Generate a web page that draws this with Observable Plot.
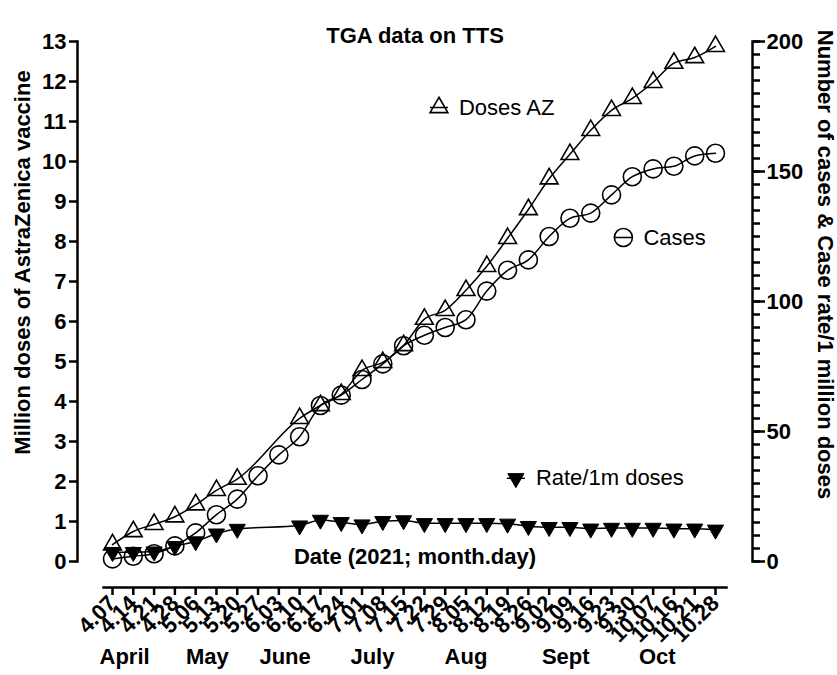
<!DOCTYPE html>
<html>
<head>
<meta charset="utf-8">
<script src="https://cdn.jsdelivr.net/npm/d3@7"></script>
<script src="https://cdn.jsdelivr.net/npm/@observablehq/plot@0.6"></script>
<style>
  html, body { margin: 0; padding: 0; background: #fff; }
</style>
</head>
<body>
<div id="chart"></div>
<script>
// ---- data ----
const dates = ["4.07","4.14","4.21","4.28","5.06","5.13","5.20","5.27","6.03","6.10",
  "6.17","6.24","7.01","7.08","7.15","7.22","7.29","8.05","8.12","8.19",
  "8.26","9.02","9.09","9.16","9.23","9.30","10.07","10.16","10.21","10.28"];
// Million doses of AstraZeneca vaccine (left axis)
const dosesAZ = [0.42,0.75,0.93,1.12,1.42,1.78,2.06,null,null,3.58,
  3.9,4.18,4.78,4.98,5.4,6.06,6.28,6.78,7.38,8.08,
  8.8,9.57,10.18,10.78,11.28,11.58,11.98,12.46,12.6,12.88];
// Number of cases (right axis)
const cases = [1,2,3,6,11,18,24,33,41,48,
  60,64,70,76,83,87,90,93,104,112,
  116,125,132,134,141,148,151,152,156,157];
// Case rate per 1 million doses (right axis)
const ratePer1m = [3.6,3.6,3.8,5.9,7.7,10.7,12.5,null,null,13.8,
  16,15.1,14.2,15.5,15.8,14.7,14.7,14.7,14.7,14.5,
  13.6,13.2,13.2,12.6,12.9,12.9,12.9,12.6,12.6,12.2];
const monthNames = ["April","May","June","July","Aug","Sept","Oct"];
const monthAt = [0.58,4.56,8.3,12.5,17.0,21.8,26.2];   // position along the date index
const leftTicks = d3.range(0, 14);
const rightMajor = [0, 50, 100, 150, 200];
const rightMinor = d3.range(0, 201, 5);
const legendNames = ["Doses AZ", "Cases", "Rate/1m doses"];
const legendAt = [[15.7, 11.35], [24.57, 8.1], [19.4, 2.08]]; // [date index, left-axis units]

// ---- build ----
const k = 13 / 200; // right-axis units -> left-axis units
const rows = dates.map((label, i) => ({i, label, doses: dosesAZ[i], cases: cases[i], rate: ratePer1m[i]}));
const dosesPts = rows.filter(d => d.doses != null);
const casesPts = rows.filter(d => d.cases != null);
const ratePts = rows.filter(d => d.rate != null);
const legend = legendNames.map((name, j) => ({name, x: legendAt[j][0], y: legendAt[j][1]}));

const hline = {draw(ctx, size) { const r = Math.sqrt(size / Math.PI); ctx.moveTo(-r, 0); ctx.lineTo(r, 0); }};

const AX = 2.5;
const chart = Plot.plot({
  width: 837,
  height: 675,
  marginLeft: 77,
  marginRight: 85,
  marginTop: 41,
  marginBottom: 88,
  x: {domain: [0, dates.length - 1], range: [112, 715]},
  y: {domain: [0, 13], range: [561, 41]},
  style: {
    fontFamily: "'Liberation Sans', Arial, Helvetica, sans-serif",
    fontSize: "22px",
    fontWeight: "bold",
    color: "black",
    background: "white"
  },
  marks: [
    // axis lines (offset Prism style)
    Plot.frame({anchor: "left", insetBottom: 26, stroke: "black", strokeWidth: AX}),
    Plot.frame({anchor: "right", insetBottom: 26, stroke: "black", strokeWidth: AX}),
    Plot.frame({anchor: "bottom", insetLeft: 26, insetRight: 26, stroke: "black", strokeWidth: AX}),
    // left axis
    Plot.axisY({anchor: "left", ticks: leftTicks, tickSize: 8, tickPadding: 3, strokeWidth: AX, label: null}),
    // right axis (cases & rate)
    Plot.axisY({anchor: "right", ticks: rightMinor.map(v => v * k), tickSize: 7, tickFormat: () => "", strokeWidth: AX, label: null}),
    Plot.axisY({anchor: "right", ticks: rightMajor.map(v => v * k), tickSize: 12, tickPadding: 2,
      tickFormat: v => String(Math.round(v / k)), strokeWidth: AX, label: null}),
    // x axis
    Plot.axisX({anchor: "bottom", ticks: d3.range(dates.length), tickFormat: i => dates[i],
      tickRotate: -45, tickSize: 8, tickPadding: 4, strokeWidth: AX, label: null}),
    Plot.text(monthNames, {x: (d, j) => monthAt[j], frameAnchor: "bottom", dy: 76, text: d => d}),
    // titles
    Plot.text(["Date (2021; month.day)"], {frameAnchor: "bottom", dy: -24, textAnchor: "middle"}),
    Plot.text(["TGA data on TTS"], {frameAnchor: "top", dy: -14, textAnchor: "middle"}),
    Plot.text(["Million doses of AstraZenica vaccine"], {frameAnchor: "left", dx: -55, dy: -52, rotate: -90, textAnchor: "middle"}),
    Plot.text(["Number of cases & Case rate/1 million doses"], {frameAnchor: "right", dx: 73, dy: -50, rotate: 90, textAnchor: "middle"}),
    // series
    Plot.line(dosesPts, {x: "i", y: "doses", stroke: "black", strokeWidth: 1.5, curve: "monotone-x"}),
    Plot.line(casesPts, {x: "i", y: d => d.cases * k, stroke: "black", strokeWidth: 1.5, curve: "monotone-x"}),
    Plot.line(ratePts, {x: "i", y: d => d.rate * k, stroke: "black", strokeWidth: 1.5, curve: "monotone-x"}),
    Plot.dot(casesPts, {x: "i", y: d => d.cases * k, symbol: "circle", r: 9, fill: "none", stroke: "black", strokeWidth: 1.6}),
    Plot.dot(dosesPts, {x: "i", y: "doses", symbol: "triangle", r: 6.6, fill: "none", stroke: "black", strokeWidth: 1.6}),
    Plot.dot(ratePts, {x: "i", y: d => d.rate * k, symbol: "triangle", rotate: 180, r: 6, fill: "black", stroke: "black", strokeWidth: 1}),
    // legend
    Plot.dot(legend, {x: "x", y: "y", symbol: hline, r: 9, stroke: "black", strokeWidth: 1.5}),
    Plot.dot([legend[0]], {x: "x", y: "y", symbol: "triangle", r: 6.6, fill: "none", stroke: "black", strokeWidth: 1.6}),
    Plot.dot([legend[1]], {x: "x", y: "y", symbol: "circle", r: 9, fill: "none", stroke: "black", strokeWidth: 1.6}),
    Plot.dot([legend[2]], {x: "x", y: "y", symbol: "triangle", rotate: 180, r: 6, fill: "black", stroke: "black", strokeWidth: 1}),
    Plot.text(legend, {x: "x", y: "y", text: "name", dx: 20, textAnchor: "start", fontWeight: "normal"})
  ]
});
document.getElementById("chart").appendChild(chart);
</script>
</body>
</html>
